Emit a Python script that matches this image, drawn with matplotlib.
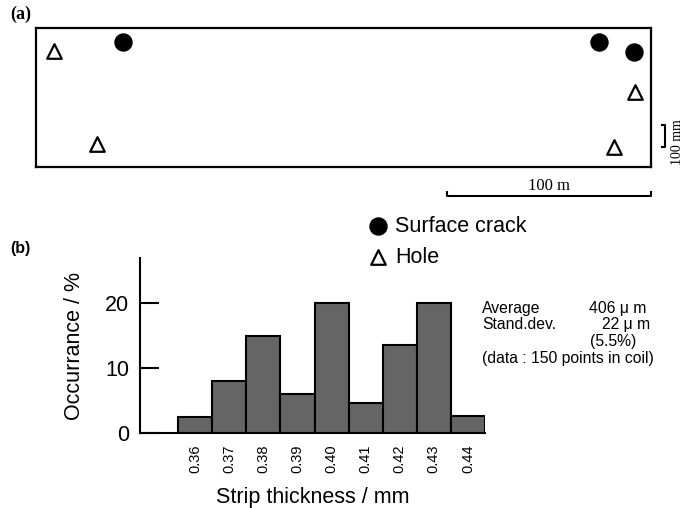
import numpy as np
import matplotlib
matplotlib.use('Agg')
from matplotlib import pyplot as plt

plt.rcParams['font.family'] = ['Liberation Sans', 'DejaVu Sans']

# (a) defect map on the coil: position along length (m) and across width (mm)
coil_length = 301
coil_width = 630
crack_x = [42.5, 275.5, 292.5]
crack_y = [565, 565, 520]
hole_x = [9, 30, 283, 293]
hole_y = [525, 105, 90, 340]

# (b) thickness histogram
thickness = [0.36, 0.37, 0.38, 0.39, 0.40, 0.41, 0.42, 0.43, 0.44]
occurrence = [2.5, 8, 15, 6, 20, 4.6, 13.5, 20, 2.6]
tick_labels = ['0.36', '0.37', '0.38', '0.39', '0.40', '0.41', '0.42', '0.43', '0.44']

fig = plt.figure(figsize=(6.86, 5.08), dpi=100)

# ---- panel (a)
ax1 = fig.add_axes([36/686, 1-167/508, 615/686, 139/508])
ax1.set_xlim(0, coil_length)
ax1.set_ylim(0, coil_width)
ax1.set_xticks([]), ax1.set_yticks([])
for s in ax1.spines.values():
    s.set_linewidth(1.6)
cracks = ax1.scatter(crack_x, crack_y, s=150, c='black', marker='o',
                     label='Surface crack', clip_on=False)
holes = ax1.scatter(hole_x, hole_y, s=110, facecolors='white', edgecolors='black',
                    linewidths=1.6, marker='^', label='Hole', clip_on=False)

# scale bars: 100 m along length, 100 mm across width
x0 = coil_length - 100
ax1.plot([x0, x0, coil_length, coil_length], [-114, -132, -132, -114],
         color='black', lw=1.5, clip_on=False)
ax1.text((x0 + coil_length)/2, -88, '100 m', ha='center', va='center',
         fontsize=12, family='Liberation Serif')
bx = coil_length + 7
ax1.plot([bx - 1.5, bx, bx, bx - 1.5], [90, 90, 190, 190], color='black',
         lw=1.5, clip_on=False)
ax1.text(bx + 6, 115, '100 mm', rotation=90, ha='center', va='center',
         fontsize=10, family='Liberation Serif')
fig.text(10/686, 1-14/508, '(a)', fontsize=13, fontweight='bold',
         family='Liberation Serif', va='center')

# legend for the defect types
fig.legend(handles=[cracks, holes], loc='upper left',
           bbox_to_anchor=(367/686, 1-216/508), frameon=False, fontsize=15.5,
           handlelength=1.0, handletextpad=0.3, borderpad=0, borderaxespad=0,
           labelspacing=0.45, scatterpoints=1)

# ---- panel (b)
ax2 = fig.add_axes([140/686, 1-433.3/508, 345/686, 175/508])
ax2.bar(thickness, occurrence, width=0.01, color='#656565', edgecolor='black',
        linewidth=1.5)
ax2.set_xlim(0.3438, 0.445)
ax2.set_ylim(0, 26.9)
ax2.set_yticks([0, 10, 20])
ax2.set_xticks(thickness)
ax2.set_xticklabels(tick_labels, rotation=90, fontsize=10.5)
ax2.tick_params(axis='y', direction='in', length=14, width=1.5, labelsize=15.5, pad=8)
ax2.tick_params(axis='x', length=0, pad=8)
ax2.spines['top'].set_visible(False)
ax2.spines['right'].set_visible(False)
ax2.spines['left'].set_linewidth(1.5)
ax2.spines['bottom'].set_linewidth(1.5)
ax2.set_xlabel('Strip thickness / mm', fontsize=15.5, labelpad=10)
ax2.set_ylabel('Occurrance / %', fontsize=15.5, labelpad=14)
fig.text(10/686, 1-248/508, '(b)', fontsize=11.5, fontweight='bold', va='center')

# summary statistics (baselines)
stats = [(482, 313, 'Average'), (589, 313, '406 μ m'),
         (482, 329, 'Stand.dev.'), (602, 329, '22 μ m'),
         (590, 346, '(5.5%)'),
         (482, 363, '(data : 150 points in coil)')]
for x, y, s in stats:
    fig.text(x/686, 1-y/508, s, fontsize=11.3, va='baseline', ha='left')

fig.savefig('out.png', dpi=100)
